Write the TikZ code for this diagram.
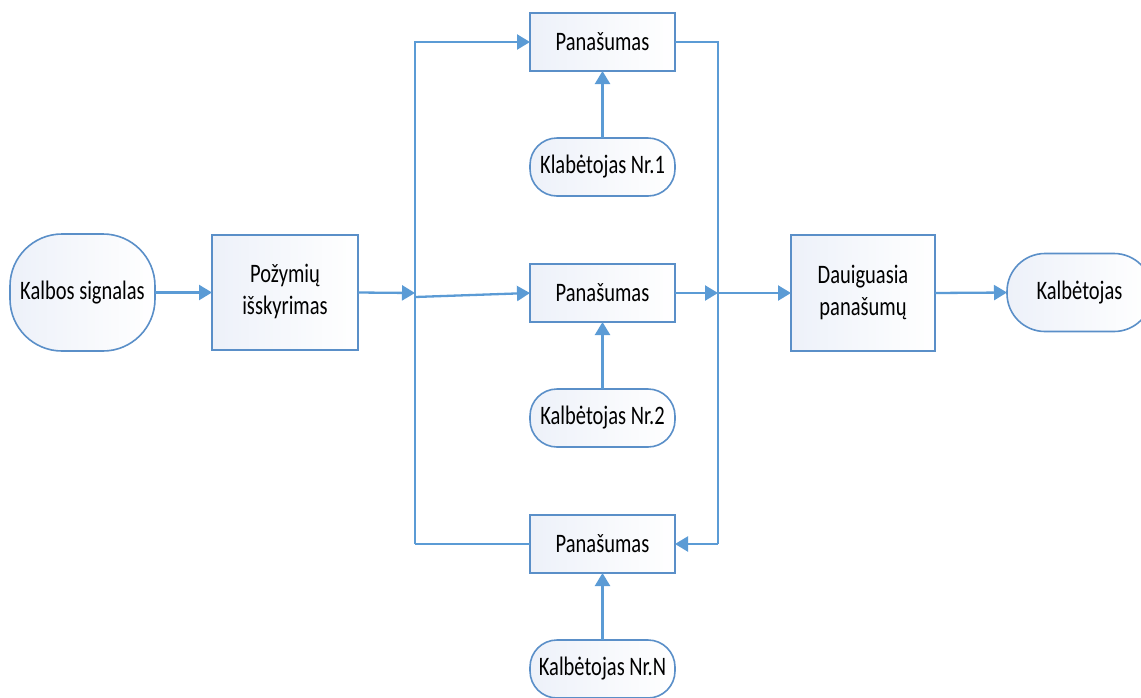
\documentclass[tikz,border=0pt]{standalone}
\usepackage{fontspec}
\usepackage{graphicx}
\setmainfont{Carlito}
\usetikzlibrary{arrows.meta}
\definecolor{lineblue}{HTML}{5B9BD5}
\definecolor{boxblue}{HTML}{5A8FC8}
\definecolor{fillblue}{HTML}{EDF1F9}
\newcommand{\vt}[1]{\scalebox{1}[1.3]{#1}}
\newcommand{\two}[2]{\vt{\begin{tabular}{@{}c@{}}#1\\#2\end{tabular}}}
\begin{document}
\begin{tikzpicture}[x=1pt,y=-1pt,
  base/.style={draw=boxblue,line width=1.6pt,left color=fillblue,right color=white,
    inner sep=0pt,outer sep=0pt,align=center,font=\fontsize{20.5}{24.5}\selectfont},
  procbox/.style={base,rectangle},
  termbox/.style={base,rounded corners=#1},
  conn/.style={draw=lineblue,line width=2.3pt},
  arr/.style={conn,-{Triangle[length=13pt,width=15pt]}}]
\useasboundingbox (0,0) rectangle (1141,697);
% nodes
\node[termbox=52pt,minimum width=145pt,minimum height=117pt] (ks) at (82.5,292.5) {\vt{Kalbos signalas}};
\node[procbox,minimum width=146pt,minimum height=115pt] (pi) at (285,292.5) {\two{Požymių}{išskyrimas}};
\node[procbox,minimum width=145pt,minimum height=58pt] (p1) at (602.5,42) {\vt{Panašumas}};
\node[procbox,minimum width=145pt,minimum height=58pt] (p2) at (602.5,293) {\vt{Panašumas}};
\node[procbox,minimum width=145pt,minimum height=58pt] (p3) at (602.5,544) {\vt{Panašumas}};
\node[termbox=27pt,minimum width=145pt,minimum height=58pt] (k1) at (602.5,167) {\vt{Klabėtojas Nr.1}};
\node[termbox=27pt,minimum width=145pt,minimum height=58pt] (k2) at (602.5,418) {\vt{Kalbėtojas Nr.2}};
\node[termbox=27pt,minimum width=145pt,minimum height=58pt] (kn) at (602.5,669) {\vt{Kalbėtojas Nr.N}};
\node[procbox,minimum width=144pt,minimum height=116pt] (dp) at (863,293) {\two{Dauiguasia}{panašumų}};
\node[termbox=38pt,minimum width=145pt,minimum height=78pt] (kb) at (1079.5,292.5) {\vt{Kalbėtojas}};
% coordinates
\coordinate (lt) at (415,42);
\coordinate (lb) at (415,544);
\coordinate (ja) at (415,293);
\coordinate (jm) at (415,297);
\coordinate (rt) at (718,42);
\coordinate (rb) at (718,544);
\coordinate (jr) at (718,293);
% connectors
\draw[arr] (ks.east) -- (pi.west);
\draw[arr] (pi.east) -- (ja);
\draw[conn] (lb) -- (p3.west);
\draw[arr] (lb) -- (lt) -- (p1.west);
\draw[arr] (jm) -- (p2.west);
\draw[conn] (p1.east) -- (rt) -- (rb);
\draw[arr] (rb) -- (p3.east);
\draw[arr] (p2.east) -- (jr);
\draw[arr] (jr) -- (dp.west);
\draw[arr] (dp.east) -- (kb.west);
\draw[arr] (k1.north) -- (p1.south);
\draw[arr] (k2.north) -- (p2.south);
\draw[arr] (kn.north) -- (p3.south);
\end{tikzpicture}
\end{document}
